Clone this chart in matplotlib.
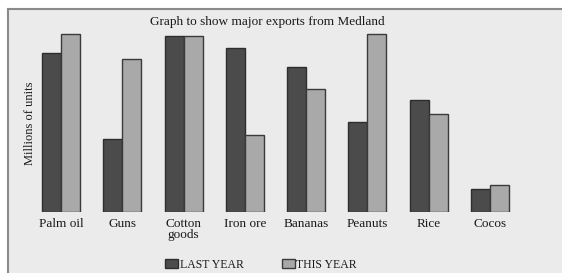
import matplotlib.pyplot as plt
import numpy as np
from matplotlib.patches import Rectangle
from matplotlib.lines import Line2D

categories = ['Palm oil', 'Guns', 'Cotton\ngoods', 'Iron ore', 'Bananas',
              'Peanuts', 'Rice', 'Cocos']
last_year = [15.9, 7.3, 17.6, 16.4, 14.5, 9.0, 11.2, 2.3]
this_year = [17.8, 15.3, 17.6, 7.7, 12.3, 17.8, 9.8, 2.7]

dark = '#4b4b4b'
light = '#a9a9a9'
bg = '#ebebeb'

plt.rcParams['font.family'] = 'Liberation Serif'

W, H = 562, 273
fig = plt.figure(figsize=(W / 100, H / 100), dpi=100)
fig.patch.set_facecolor('white')

# grey panel with a border on the left and top
fig.patches.append(Rectangle((8 / W, 0), 1, (H - 9) / H, transform=fig.transFigure,
                             facecolor=bg, edgecolor='none', zorder=-10))
fig.lines.append(Line2D([8 / W, 8 / W], [0, (H - 9) / H], transform=fig.transFigure,
                        color='#8a8a8a', lw=1.5, zorder=-5))
fig.lines.append(Line2D([8 / W, 1], [(H - 9) / H, (H - 9) / H], transform=fig.transFigure,
                        color='#8a8a8a', lw=1.5, zorder=-5))

ax_left, ax_right = 20, 540
ax_bottom, ax_top = 61, 243
ax = fig.add_axes([ax_left / W, ax_bottom / H, (ax_right - ax_left) / W,
                   (ax_top - ax_bottom) / H])
ax.set_facecolor('none')

x = np.arange(len(categories))
ppu = (490 - 61) / 7
ax.set_xlim(-(61 - ax_left) / ppu, 7 + (ax_right - 490) / ppu)
ax.set_ylim(0, 18.2)

w = 0.31
ax.bar(x - w / 2, last_year, w, color=dark, edgecolor='#2e2e2e', lw=1.0, label='LAST YEAR')
ax.bar(x + w / 2, this_year, w, color=light, edgecolor='#3a3a3a', lw=1.0, label='THIS YEAR')

for s in ax.spines.values():
    s.set_visible(False)
ax.set_yticks([])
ax.set_xticks(x)
ax.set_xticklabels(categories, fontsize=9.5, color='#1a1a1a', linespacing=0.9)
ax.tick_params(axis='x', length=0, pad=4)
ax.set_ylabel('Millions of units', fontsize=9, color='#1a1a1a', labelpad=2)
ax.yaxis.set_label_coords((36 - ax_left) / (ax_right - ax_left), (H - 123 - ax_bottom) / (ax_top - ax_bottom))

fig.text(267 / W, 1 - 22 / H, 'Graph to show major exports from Medland',
         ha='center', va='center', fontsize=9.5, color='#1a1a1a')

fig.legend(loc='center', bbox_to_anchor=(261 / W, 8 / H), ncol=2, frameon=False,
           fontsize=8.5, handlelength=1.1, handleheight=0.8, handletextpad=0.15,
           columnspacing=3.2, borderpad=0, labelcolor='#1a1a1a')

fig.savefig('out.png', dpi=100)
